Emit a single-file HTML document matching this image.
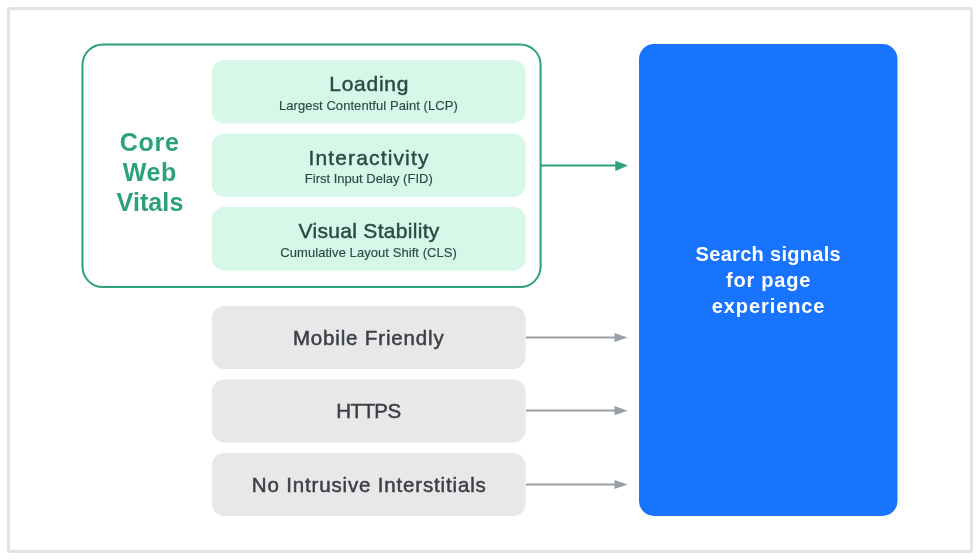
<!DOCTYPE html>
<html lang="en">
<head>
<meta charset="utf-8">
<title>Search signals for page experience</title>
<style>
  html, body { margin: 0; padding: 0; background: #ffffff; }
  body { width: 980px; height: 560px; overflow: hidden; font-family: "Liberation Sans", sans-serif; }
  svg { display: block; will-change: transform; }
  text { font-family: "Liberation Sans", sans-serif; }
  .t1 { font-size: 21px; fill: #2b4a46; stroke: #2b4a46; stroke-width: 0.45px; letter-spacing: 0.72px; }
  .t2 { font-size: 13px; fill: #2b4a46; stroke: #2b4a46; stroke-width: 0.15px; }
  .g1 { font-size: 20.5px; fill: #3c4043; stroke: #3c4043; stroke-width: 0.5px; letter-spacing: 0.84px; }
  .cwv { font-size: 25px; font-weight: bold; fill: #2ca27b; letter-spacing: 0.5px; }
  .blue { font-size: 20px; font-weight: bold; fill: #ffffff; letter-spacing: 0.3px; }
</style>
</head>
<body>
<svg width="980" height="560" viewBox="0 0 980 560">
  <rect x="0" y="0" width="980" height="560" fill="#ffffff"/>
  <!-- outer frame -->
  <rect x="8.5" y="8.5" width="963" height="543" rx="2" ry="2" fill="#ffffff" stroke="#e3e3e3" stroke-width="3"/>

  <!-- Core Web Vitals group -->
  <rect x="82.5" y="44.4" width="458.1" height="242.7" rx="20.5" ry="20.5" fill="#ffffff" stroke="#2ca27b" stroke-width="2"/>

  <rect x="211.8" y="60" width="313.9" height="63.5" rx="12.5" ry="12.5" fill="#d7f8e8"/>
  <rect x="211.8" y="133.5" width="313.9" height="63.5" rx="12.5" ry="12.5" fill="#d7f8e8"/>
  <rect x="211.8" y="207" width="313.9" height="63.4" rx="12.5" ry="12.5" fill="#d7f8e8"/>

  <rect x="211.8" y="306" width="313.9" height="63" rx="12.5" ry="12.5" fill="#e8e8ea"/>
  <rect x="211.8" y="379.5" width="313.9" height="63" rx="12.5" ry="12.5" fill="#e8e8ea"/>
  <rect x="211.8" y="453" width="313.9" height="63" rx="12.5" ry="12.5" fill="#e8e8ea"/>

  <!-- blue box -->
  <rect x="639" y="44" width="258.5" height="472" rx="15" ry="15" fill="#1873ff"/>

  <!-- arrows -->
  <line x1="541" y1="165.5" x2="617" y2="165.5" stroke="#2ca27b" stroke-width="2"/>
  <path d="M615.3 160.7 L628 165.6 L615.3 170.9 Z" fill="#2ca27b"/>

  <line x1="526" y1="337.4" x2="616" y2="337.4" stroke="#9aa0a6" stroke-width="2"/>
  <path d="M614.5 332.9 L627.6 337.5 L614.5 342.1 Z" fill="#9aa0a6"/>
  <line x1="526" y1="410.6" x2="616" y2="410.6" stroke="#9aa0a6" stroke-width="2"/>
  <path d="M614.5 406 L627.6 410.7 L614.5 415.3 Z" fill="#9aa0a6"/>
  <line x1="526" y1="484.4" x2="616" y2="484.4" stroke="#9aa0a6" stroke-width="2"/>
  <path d="M614.5 479.9 L627.6 484.5 L614.5 489.1 Z" fill="#9aa0a6"/>

  <!-- text -->
  <text class="cwv" x="149.7" y="151.3" text-anchor="middle" style="letter-spacing:0.75px">Core</text>
  <text class="cwv" x="149.8" y="181.2" text-anchor="middle" style="letter-spacing:0.6px">Web</text>
  <text class="cwv" x="150" y="210.7" text-anchor="middle" style="letter-spacing:0.1px">Vitals</text>

  <text class="t1" x="369.2" y="91.3" text-anchor="middle">Loading</text>
  <text class="t2" x="368.4" y="110" text-anchor="middle" style="letter-spacing:0.06px">Largest Contentful Paint (LCP)</text>

  <text class="t1" x="369" y="164.8" text-anchor="middle" style="letter-spacing:1.15px">Interactivity</text>
  <text class="t2" x="368.8" y="183.4" text-anchor="middle">First Input Delay (FID)</text>

  <text class="t1" x="369.1" y="238.1" text-anchor="middle" style="letter-spacing:0.3px">Visual Stability</text>
  <text class="t2" x="368.6" y="256.8" text-anchor="middle" style="letter-spacing:0.06px">Cumulative Layout Shift (CLS)</text>

  <text class="g1" x="368.7" y="345" text-anchor="middle">Mobile Friendly</text>
  <text class="g1" x="368.4" y="418" text-anchor="middle" style="letter-spacing:-0.55px">HTTPS</text>
  <text class="g1" x="369.2" y="491.7" text-anchor="middle">No Intrusive Interstitials</text>

  <text class="blue" x="768.3" y="261" text-anchor="middle">Search signals</text>
  <text class="blue" x="768.6" y="287" text-anchor="middle" style="letter-spacing:0.8px">for page</text>
  <text class="blue" x="768.6" y="312.7" text-anchor="middle" style="letter-spacing:0.9px">experience</text>
</svg>
</body>
</html>
